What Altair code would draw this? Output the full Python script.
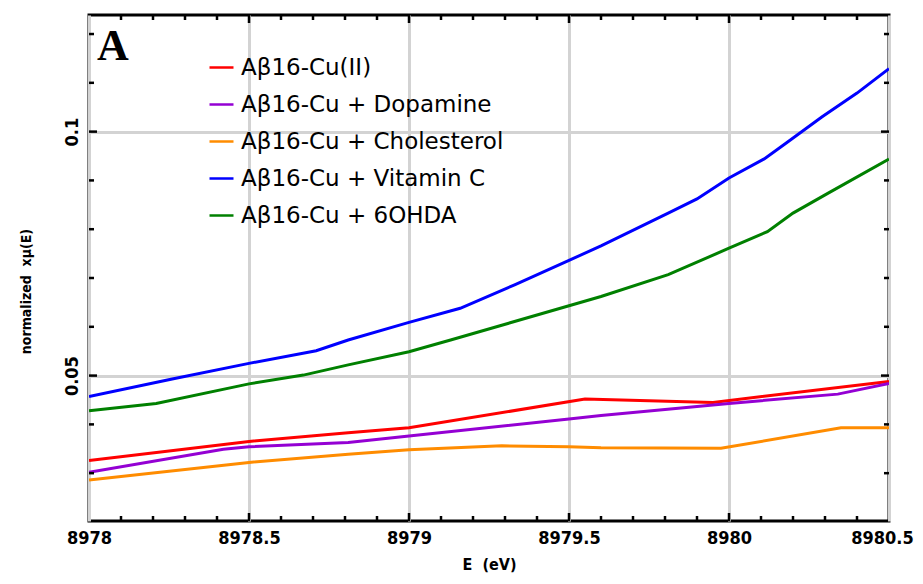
import altair as alt
import pandas as pd

# ---- data ----
series_names = ["Aβ16-Cu(II)", "Aβ16-Cu + Dopamine", "Aβ16-Cu + Cholesterol",
                "Aβ16-Cu + Vitamin C", "Aβ16-Cu + 6OHDA"]
series_colors = ["#ff0000", "#9400d3", "#ff8c00", "#0000ff", "#008000"]

cu_e = [8978.0, 8978.5, 8978.81, 8979.0, 8979.55, 8979.95, 8980.5]
cu_v = [0.0326, 0.0365, 0.0383, 0.0393, 0.0452, 0.0445, 0.0488]

dop_e = [8978.0, 8978.42, 8978.5, 8978.81, 8979.0, 8979.5, 8979.6, 8980.0, 8980.34, 8980.5]
dop_v = [0.0302, 0.0349, 0.0354, 0.0363, 0.0376, 0.0411, 0.0418, 0.0443, 0.0462, 0.0484]

chol_e = [8978.0, 8978.5, 8978.81, 8979.0, 8979.29, 8979.5, 8979.6, 8979.975, 8980.35, 8980.5]
chol_v = [0.0286, 0.0322, 0.0339, 0.0348, 0.0356, 0.0354, 0.0352, 0.0351, 0.0393, 0.0393]

vitc_e = [8978.0, 8978.26, 8978.5, 8978.71, 8978.81, 8979.0, 8979.16, 8979.33, 8979.5,
          8979.6, 8979.81, 8979.9, 8980.0, 8980.11, 8980.18, 8980.29, 8980.4, 8980.5]
vitc_v = [0.0457, 0.0493, 0.0525, 0.0551, 0.0573, 0.0609, 0.0638, 0.0686, 0.0736,
          0.0766, 0.0833, 0.0862, 0.0905, 0.0944, 0.0977, 0.1030, 0.1079, 0.1129]

ohda_e = [8978.0, 8978.21, 8978.5, 8978.67, 8978.81, 8979.0, 8979.13, 8979.5, 8979.6,
          8979.81, 8980.0, 8980.12, 8980.2, 8980.31, 8980.5]
ohda_v = [0.0428, 0.0443, 0.0483, 0.0501, 0.0522, 0.0549, 0.0573, 0.0643, 0.0662,
          0.0707, 0.0761, 0.0795, 0.0833, 0.0874, 0.0944]

x_labels = [8978, 8978.5, 8979, 8979.5, 8980, 8980.5]
y_labels = [0.05, 0.1]
x_minor = [8978.1, 8978.2, 8978.3, 8978.4, 8978.6, 8978.7, 8978.8, 8978.9,
           8979.1, 8979.2, 8979.3, 8979.4, 8979.6, 8979.7, 8979.8, 8979.9,
           8980.1, 8980.2, 8980.3, 8980.4]
x_major = [8978.5, 8979, 8979.5, 8980]
y_minor = [0.03, 0.04, 0.06, 0.07, 0.08, 0.09, 0.11, 0.12]
y_major = [0.05, 0.1]

X_DOMAIN = [8978, 8980.5]
Y_DOMAIN = [0.0202, 0.1239]
W, H = 800, 506

rows = []
for name, es, vs in zip(series_names,
                        [cu_e, dop_e, chol_e, vitc_e, ohda_e],
                        [cu_v, dop_v, chol_v, vitc_v, ohda_v]):
    for e, v in zip(es, vs):
        rows.append({"series": name, "E": e, "mu": v})
df = pd.DataFrame(rows)

xscale = alt.Scale(domain=X_DOMAIN, nice=False, zero=False)
yscale = alt.Scale(domain=Y_DOMAIN, nice=False, zero=False)

TITLE_FONT = "DejaVu Sans Condensed, DejaVu Sans"

lines = alt.Chart(df).mark_line(strokeWidth=3, clip=True).encode(
    x=alt.X("E:Q", scale=xscale,
            axis=alt.Axis(values=x_labels, format="~g", title="E\u00a0\u00a0(eV)",
                          grid=True, gridColor="#d3d3d3", gridWidth=3,
                          ticks=False, tickSize=0, domain=False,
                          labelFont=TITLE_FONT, labelFontWeight="bold", labelFontSize=18,
                          labelColor="black", labelPadding=8, labelFlush=False,
                          labelOffset={"condition": {"test": "datum.value >= 8980.5", "value": -7},
                                       "value": 0},
                          titleFont=TITLE_FONT, titleFontWeight="bold", titleFontSize=16,
                          titleColor="black", titleX=400, titleY=48,
                          titleBaseline="alphabetic", titleAlign="center")),
    y=alt.Y("mu:Q", scale=yscale,
            axis=alt.Axis(values=y_labels, format="~g", title="normalized\u00a0 xμ(E)",
                          grid=True, gridColor="#d3d3d3", gridWidth=3,
                          ticks=False, tickSize=0, domain=False,
                          labelFont=TITLE_FONT, labelFontWeight="bold", labelFontSize=18,
                          labelColor="black", labelAngle=270, labelAlign="center",
                          labelBaseline="bottom", labelPadding=8, labelFlush=False,
                          titleFont=TITLE_FONT, titleFontWeight="bold", titleFontSize=14,
                          titleColor="black", titleAngle=270, titleX=-63, titleY=276,
                          titleAlign="center", titleBaseline="middle")),
    color=alt.Color("series:N",
                    scale=alt.Scale(domain=series_names, range=series_colors),
                    sort=series_names,
                    legend=alt.Legend(orient="none", legendX=119, legendY=39, title=None,
                                      symbolType="stroke", symbolSize=576,
                                      symbolStrokeWidth=2.5, labelFontSize=23,
                                      labelFont="DejaVu Sans", labelColor="black",
                                      labelOffset=6, rowPadding=11, padding=0,
                                      labelLimit=500)),
)

def tick_layer(values, field, length, side):
    d = pd.DataFrame({field: values})
    base = alt.Chart(d).mark_rule(color="black", strokeWidth=2.5)
    if field == "E":
        enc = dict(x=alt.X("E:Q", scale=xscale))
        if side == "bottom":
            enc.update(y=alt.value(H), y2=alt.value(H - length))
        else:
            enc.update(y=alt.value(0), y2=alt.value(length))
    else:
        enc = dict(y=alt.Y("mu:Q", scale=yscale))
        if side == "left":
            enc.update(x=alt.value(0), x2=alt.value(length))
        else:
            enc.update(x=alt.value(W), x2=alt.value(W - length))
    return base.encode(**enc)

ticks = [
    tick_layer(x_minor, "E", 5, "bottom"), tick_layer(x_minor, "E", 5, "top"),
    tick_layer(x_major, "E", 8, "bottom"), tick_layer(x_major, "E", 8, "top"),
    tick_layer(y_minor, "mu", 5, "left"), tick_layer(y_minor, "mu", 5, "right"),
    tick_layer(y_major, "mu", 8, "left"), tick_layer(y_major, "mu", 8, "right"),
]

panel_label = alt.Chart(pd.DataFrame({"t": ["A"]})).mark_text(
    font="Liberation Serif", fontWeight="bold", fontSize=44, color="black",
    align="left", baseline="alphabetic"
).encode(text="t:N", x=alt.value(8), y=alt.value(45))

chart = alt.layer(lines, *ticks, panel_label).properties(
    width=W, height=H,
    padding={"left": 81, "top": 7, "right": 26, "bottom": 55},
    autosize="none",
).configure_view(stroke="black", strokeWidth=3)

chart.save("out.html", embed_options={"renderer": "svg", "actions": False})
